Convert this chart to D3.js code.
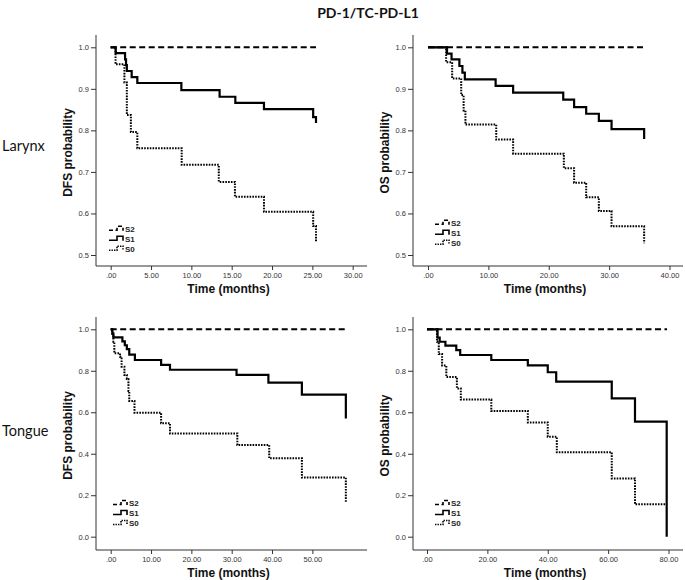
<!DOCTYPE html>
<html><head><meta charset="utf-8">
<script src="https://cdn.jsdelivr.net/npm/d3@7"></script>
<style>body{margin:0;background:#fff}svg{display:block}</style>
</head><body>
<svg id="c" width="685" height="580"></svg>
<script>
// ---- data ----
const title = "PD-1/TC-PD-L1";
const rowLabels = ["Larynx", "Tongue"];
const seriesNames = ["S2", "S1", "S0"];

// Larynx DFS: [time, survival]
const larynxDfsS2 = [[0, 1.0], [25.45, 1.0]];
const larynxDfsS1 = [[0, 1.0], [0.62, 0.986], [1.78, 0.971], [1.9, 0.957], [2.0, 0.943], [2.6, 0.928], [3.3, 0.914], [8.76, 0.897], [13.5, 0.881], [15.45, 0.866], [19.0, 0.851], [25.1, 0.832], [25.45, 0.818]];
const larynxDfsS0 = [[0, 1.0], [0.6, 0.959], [1.7, 0.915], [2.0, 0.837], [2.5, 0.796], [3.3, 0.757], [8.8, 0.717], [13.4, 0.676], [15.4, 0.640], [19.0, 0.604], [25.1, 0.570], [25.45, 0.533]];

// Larynx OS
const larynxOsS2 = [[0, 1.0], [35.8, 1.0]];
const larynxOsS1 = [[0, 1.0], [3.15, 0.985], [3.9, 0.971], [5.2, 0.955], [5.7, 0.939], [6.1, 0.923], [11.2, 0.907], [14.1, 0.891], [22.4, 0.874], [24.2, 0.856], [26.2, 0.840], [28.3, 0.823], [30.4, 0.803], [35.8, 0.779]];
const larynxOsS0 = [[0, 1.0], [3.0, 0.964], [4.0, 0.925], [5.5, 0.885], [5.9, 0.848], [6.2, 0.814], [11.3, 0.778], [14.1, 0.744], [22.5, 0.709], [24.2, 0.674], [26.2, 0.639], [28.3, 0.606], [30.4, 0.569], [35.8, 0.528]];

// Tongue DFS
const tongueDfsS2 = [[0, 1.0], [58.3, 1.0]];
const tongueDfsS1 = [[0, 1.0], [0.4, 0.981], [0.66, 0.961], [2.9, 0.942], [3.5, 0.923], [4.0, 0.904], [4.6, 0.878], [6.0, 0.852], [12.5, 0.828], [14.7, 0.805], [31.2, 0.780], [39.1, 0.743], [47.4, 0.685], [58.3, 0.570]];
const tongueDfsS0 = [[0, 1.0], [0.4, 0.970], [0.66, 0.940], [0.9, 0.884], [2.3, 0.868], [2.7, 0.820], [3.4, 0.780], [4.0, 0.760], [4.4, 0.703], [4.6, 0.654], [5.9, 0.598], [12.5, 0.547], [14.7, 0.498], [31.4, 0.442], [39.3, 0.378], [47.4, 0.285], [58.3, 0.163]];

// Tongue OS
const tongueOsS2 = [[0, 1.0], [79.5, 1.0]];
const tongueOsS1 = [[0, 1.0], [3.5, 0.960], [4.2, 0.940], [6.1, 0.921], [9.7, 0.900], [11.0, 0.876], [21.3, 0.852], [33.4, 0.826], [40.0, 0.793], [42.8, 0.748], [61.2, 0.667], [68.9, 0.555], [79.4, 0.0]];
const tongueOsS0 = [[0, 1.0], [3.3, 0.940], [3.9, 0.881], [5.0, 0.825], [6.4, 0.770], [9.9, 0.715], [11.2, 0.661], [21.3, 0.606], [33.4, 0.551], [40.0, 0.482], [43.0, 0.407], [61.2, 0.281], [68.9, 0.156], [79.4, 0.156]];

// tick values
const xTicksLarynxDfs = [0, 5, 10, 15, 20, 25, 30];
const xTicksLarynxOs = [0, 10, 20, 30, 40];
const xTicksTongueDfs = [0, 10, 20, 30, 40, 50];
const xTicksTongueOs = [0, 20, 40, 60, 80];
const yTicksLarynx = [0.5, 0.6, 0.7, 0.8, 0.9, 1.0];
const yTicksTongue = [0.0, 0.2, 0.4, 0.6, 0.8, 1.0];

// ---- drawing ----
const svg = d3.select("#c");
const SANS = "'Liberation Sans', Arimo, sans-serif";
const styles = {
  S2: {width: 2, dash: "6,3.5"},
  S1: {width: 2.2, dash: null},
  S0: {width: 2, dash: "1.6,1.2"}
};

const panels = [
  {ax: 96, axR: 367, ay: 266, ayT: 35, xd: [0, 30], xr: [110.7, 352.7], yd: [0.5, 1], yr: [255, 47.3],
   xt: xTicksLarynxDfs, yt: yTicksLarynx, ylab: "DFS probability", series: [larynxDfsS2, larynxDfsS1, larynxDfsS0],
   lx: 109, ly: 228.7},
  {ax: 413, axR: 683, ay: 266, ayT: 35, xd: [0, 40], xr: [428, 669.5], yd: [0.5, 1], yr: [255, 47.3],
   xt: xTicksLarynxOs, yt: yTicksLarynx, ylab: "OS probability", series: [larynxOsS2, larynxOsS1, larynxOsS0],
   lx: 435, ly: 222.7},
  {ax: 96, axR: 367, ay: 550, ayT: 317, xd: [0, 60], xr: [110.7, 352.7], yd: [0, 1], yr: [536.7, 329.3],
   xt: xTicksTongueDfs, yt: yTicksTongue, ylab: "DFS probability", series: [tongueDfsS2, tongueDfsS1, tongueDfsS0],
   lx: 113, ly: 503},
  {ax: 413, axR: 683, ay: 550, ayT: 317, xd: [0, 80], xr: [427, 668.5], yd: [0, 1], yr: [536.7, 329.3],
   xt: xTicksTongueOs, yt: yTicksTongue, ylab: "OS probability", series: [tongueOsS2, tongueOsS1, tongueOsS0],
   lx: 435, ly: 503}
];

const xFmt = v => v === 0 ? ".00" : v.toFixed(2);
const yFmt = d3.format(".1f");

svg.append("text").attr("x", 368).attr("y", 18).attr("text-anchor", "middle")
  .attr("font-family", "Lato, 'Open Sans', sans-serif").attr("font-weight", "bold").attr("font-size", 14)
  .attr("fill", "#111").text(title);

rowLabels.forEach((r, i) => {
  svg.append("text").attr("x", 2).attr("y", i === 0 ? 151 : 436)
    .attr("font-family", "Lato, 'Open Sans', sans-serif").attr("font-size", 14.5)
    .attr("fill", "#111").text(r);
});

panels.forEach(p => {
  const g = svg.append("g");
  const x = d3.scaleLinear().domain(p.xd).range(p.xr);
  const y = d3.scaleLinear().domain(p.yd).range(p.yr);

  // axes lines
  g.append("line").attr("x1", p.ax).attr("x2", p.axR).attr("y1", p.ay).attr("y2", p.ay)
    .attr("stroke", "#333").attr("stroke-width", 1);
  g.append("line").attr("x1", p.ax).attr("x2", p.ax).attr("y1", p.ayT).attr("y2", p.ay)
    .attr("stroke", "#333").attr("stroke-width", 1);

  const xa = g.append("g").attr("transform", `translate(0,${p.ay})`)
    .call(d3.axisBottom(x).tickValues(p.xt).tickFormat(xFmt).tickSize(4).tickPadding(3));
  const ya = g.append("g").attr("transform", `translate(${p.ax},0)`)
    .call(d3.axisLeft(y).tickValues(p.yt).tickFormat(yFmt).tickSize(5).tickPadding(2));
  [xa, ya].forEach(a => {
    a.select(".domain").remove();
    a.selectAll("line").attr("stroke", "#333");
    a.selectAll("text").attr("font-family", SANS)
      .attr("font-size", 7.5).attr("fill", "#333");
  });

  // axis titles
  g.append("text").attr("x", (p.ax + p.axR) / 2 - 3).attr("y", p.ay + 27).attr("text-anchor", "middle")
    .attr("font-family", SANS).attr("font-weight", "bold")
    .attr("font-size", 12).attr("fill", "#111").text("Time (months)");
  const cy = (p.ayT + p.ay) / 2 + 2;
  g.append("text").attr("transform", `translate(${p.ax - 24},${cy}) rotate(-90)`).attr("text-anchor", "middle")
    .attr("font-family", SANS).attr("font-weight", "bold")
    .attr("font-size", 12).attr("fill", "#111").text(p.ylab);

  const line = d3.line().x(d => x(d[0])).y(d => y(d[1])).curve(d3.curveStepAfter);
  p.series.forEach((s, i) => {
    const st = styles[seriesNames[i]];
    g.append("path").attr("d", line(s)).attr("fill", "none").attr("stroke", "#000")
      .attr("stroke-width", st.width).attr("stroke-dasharray", st.dash);
  });

  // legend
  seriesNames.forEach((n, i) => {
    const ly = p.ly + i * 10;
    const lx = p.lx;
    g.append("path").attr("d", `M${lx},${ly + 1.5}H${lx + 8}V${ly - 2.5}H${lx + 14}V${ly + 2}`)
      .attr("fill", "none").attr("stroke", "#000").attr("stroke-width", 1.6)
      .attr("stroke-dasharray", n === "S0" ? "1.4,1.1" : (n === "S2" ? "4,2.5" : null));
    g.append("text").attr("x", lx + 16).attr("y", ly + 3).attr("font-family", SANS)
      .attr("font-weight", "bold").attr("font-size", 8).attr("fill", "#222").text(n);
  });
});
</script>
</body></html>
